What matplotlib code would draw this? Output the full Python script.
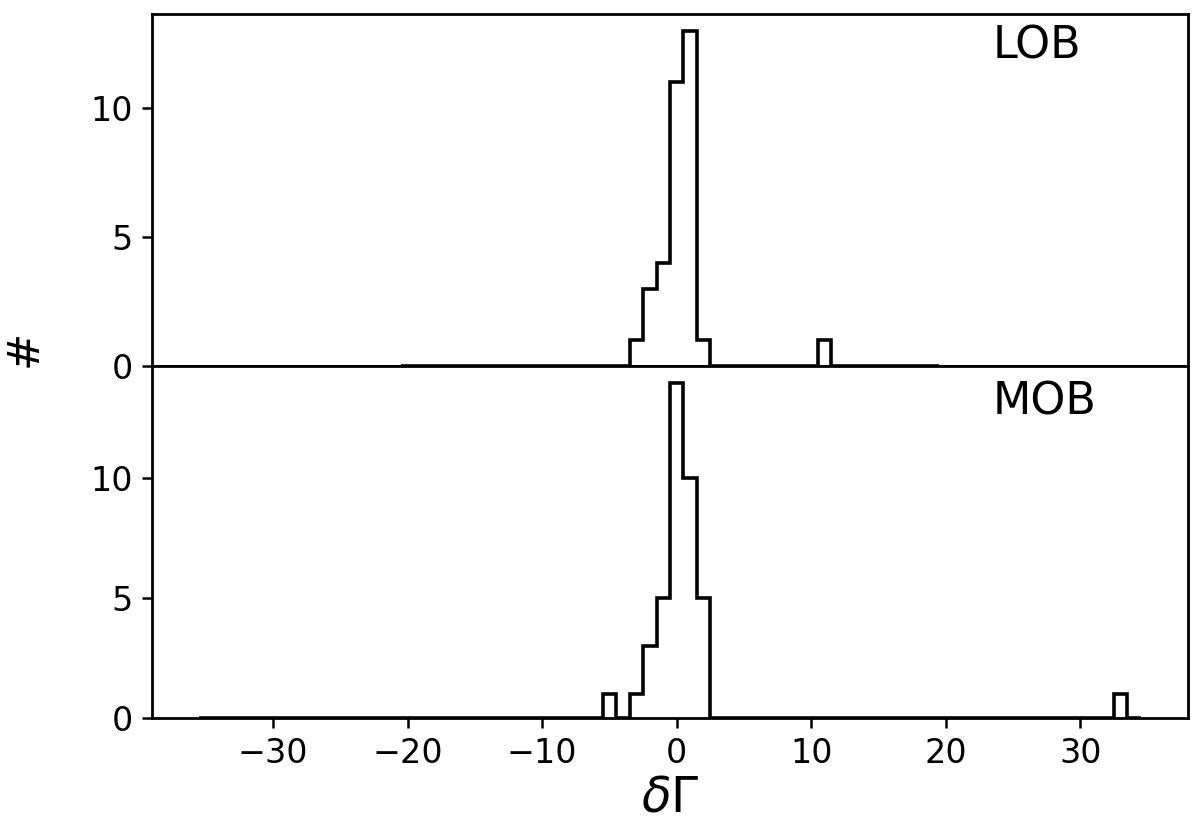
import numpy as np
import matplotlib
matplotlib.use("Agg")
import matplotlib.pyplot as plt

# histogram data (bin centres and counts), bins of width 1
lob_centres = [-3, -2, -1, 0, 1, 2, 11]
lob_counts = [1, 3, 4, 11, 13, 1, 1]
lob_range = (-20.5, 19.5)

mob_centres = [-5, -3, -2, -1, 0, 1, 2, 33]
mob_counts = [1, 1, 3, 5, 14, 10, 5, 1]
mob_range = (-35.5, 34.5)

yticks = [0, 5, 10]
xticks = [-30, -20, -10, 0, 10, 20, 30]

fig = plt.figure(figsize=(6, 4.135), dpi=200)
gs = fig.add_gridspec(2, 1, hspace=0, left=0.1267, right=0.99, top=0.983, bottom=0.132)
ax1 = fig.add_subplot(gs[0])
ax2 = fig.add_subplot(gs[1], sharex=ax1)

bins1 = np.arange(lob_range[0], lob_range[1] + 0.5, 1)
bins2 = np.arange(mob_range[0], mob_range[1] + 0.5, 1)
ax1.hist(lob_centres, bins=bins1, weights=lob_counts, histtype='step', color='k', lw=1.3)
ax2.hist(mob_centres, bins=bins2, weights=mob_counts, histtype='step', color='k', lw=1.3)

for ax in (ax1, ax2):
    ax.set_yticks(yticks)
    ax.tick_params(labelsize=12, width=0.9)
    for s in ax.spines.values():
        s.set_linewidth(1.0)

ax1.tick_params(axis='x', bottom=False, labelbottom=False)
ax2.set_xticks(xticks)
ax2.set_xlabel(r'$\delta\Gamma$', fontsize=17.5, labelpad=1)

ax1.text(0.811, 0.875, 'LOB', transform=ax1.transAxes, fontsize=16)
ax2.text(0.811, 0.863, 'MOB', transform=ax2.transAxes, fontsize=16)

fig.text(24 / 1200, 1 - 348 / 827, '#', rotation=90, fontsize=16, ha='center', va='center')

fig.savefig('out.png', dpi=200)
